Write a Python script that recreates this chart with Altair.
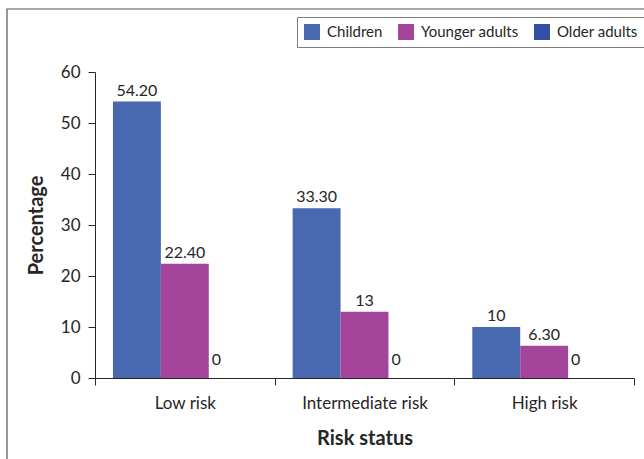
import altair as alt
import pandas as pd

# Risk categories and population groups
categories = ["Low risk", "Intermediate risk", "High risk"]
groups = ["Children", "Younger adults", "Older adults"]

# Percentage of each group per risk status
children = [54.2, 33.3, 10]
younger_adults = [22.4, 13, 6.3]
older_adults = [0, 0, 0]

# Printed value labels
children_labels = ["54.20", "33.30", "10"]
younger_labels = ["22.40", "13", "6.30"]
older_labels = ["0", "0", "0"]

colors = ["#4868B0", "#A4449A", "#3450A2"]

rows = []
for series, vals, labs in [
    ("Children", children, children_labels),
    ("Younger adults", younger_adults, younger_labels),
    ("Older adults", older_adults, older_labels),
]:
    for cat, v, lab in zip(categories, vals, labs):
        rows.append({"risk": cat, "group": series, "value": v, "label": lab})
df = pd.DataFrame(rows)

FONT = "Lato"
TEXT = "#262626"
LINE = "#262626"

x_enc = alt.X(
    "risk:N",
    sort=categories,
    scale=alt.Scale(paddingInner=0, paddingOuter=0),
    axis=alt.Axis(
        title="Risk status",
        labelAngle=0,
        tickBand="extent",
        tickSize=7,
        labelPadding=10,
        titlePadding=17,
        labelFontSize=17,
        titleFontSize=20,
        titleFontWeight="bold",
        labelFont=FONT,
        titleFont=FONT,
        labelColor=TEXT,
        titleColor=TEXT,
        domainColor=LINE,
        tickColor=LINE,
        grid=False,
    ),
)
xoff_enc = alt.XOffset(
    "group:N", sort=groups, scale=alt.Scale(paddingOuter=0.375, paddingInner=0)
)
y_enc = alt.Y(
    "value:Q",
    scale=alt.Scale(domain=[0, 60]),
    axis=alt.Axis(
        title="Percentage",
        values=[0, 10, 20, 30, 40, 50, 60],
        grid=False,
        tickSize=7,
        labelPadding=8,
        titlePadding=14,
        labelFontSize=17,
        titleFontSize=20,
        titleFontWeight="bold",
        labelFont=FONT,
        titleFont=FONT,
        labelColor=TEXT,
        titleColor=TEXT,
        domainColor=LINE,
        tickColor=LINE,
    ),
)

base = alt.Chart(df)

bars = base.mark_bar().encode(
    x=x_enc,
    xOffset=xoff_enc,
    y=y_enc,
    color=alt.Color(
        "group:N",
        sort=groups,
        scale=alt.Scale(domain=groups, range=colors),
        legend=alt.Legend(
            title=None,
            orient="none",
            legendX=202,
            legendY=-55,
            direction="horizontal",
            symbolType="square",
            symbolSize=256,
            symbolStrokeWidth=0,
            symbolOpacity=1,
            labelFontSize=15,
            labelFont=FONT,
            labelColor=TEXT,
            labelOffset=7,
            columnPadding=15,
            padding=7,
            strokeColor="#7f7f7f",
            fillColor="white",
        ),
    ),
)

labels = base.mark_text(
    baseline="alphabetic", dy=-6, fontSize=16, font=FONT, color=TEXT
).encode(
    x=alt.X("risk:N", sort=categories),
    xOffset=alt.XOffset("group:N", sort=groups),
    y="value:Q",
    text="label:N",
).transform_filter(alt.datum.group != "Older adults")

zero_labels = base.mark_text(
    baseline="alphabetic", align="left", dx=-21, dy=-13, fontSize=16, font=FONT, color=TEXT
).encode(
    x=alt.X("risk:N", sort=categories),
    xOffset=alt.XOffset("group:N", sort=groups),
    y="value:Q",
    text="label:N",
).transform_filter(alt.datum.group == "Older adults")

# Frame around the whole figure
frame = alt.Chart(pd.DataFrame({"k": [0]})).mark_rect(
    fillOpacity=0, stroke="#555555", strokeWidth=1.2
).encode(
    x=alt.value(-88), x2=alt.value(600), y=alt.value(-63), y2=alt.value(420)
)

chart = (
    alt.layer(frame, bars, labels, zero_labels)
    .properties(
        width=539,
        height=306,
        autosize=alt.AutoSizeParams(type="none"),
        padding={"left": 95, "top": 72, "right": 10, "bottom": 81},
        background="white",
    )
    .configure_view(stroke=None)
)

chart.save("out.html", embed_options={"renderer": "svg", "actions": False})
